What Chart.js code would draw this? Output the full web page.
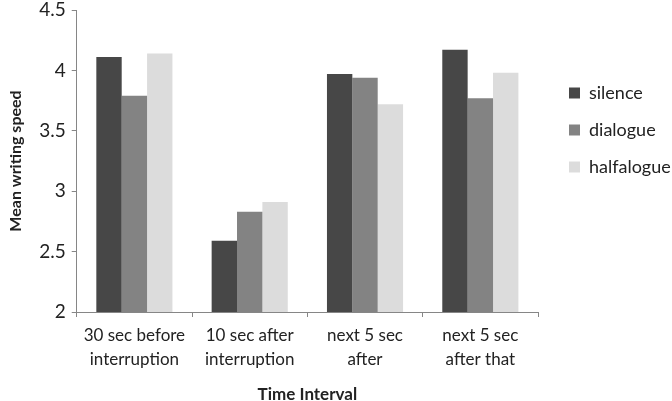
<!DOCTYPE html>
<html><head><meta charset="utf-8">
<script src="https://cdn.jsdelivr.net/npm/chart.js@4"></script>
<style>html,body{margin:0;padding:0;background:#fff;}#wrap{width:672px;height:401px;}</style>
</head><body><div id="wrap"><canvas id="c" width="672" height="401"></canvas></div>
<script>
const categories = [["30 sec before","interruption"],["10 sec after","interruption"],["next 5 sec","after"],["next 5 sec","after that"]];
const silence = [4.11, 2.59, 3.97, 4.17];
const dialogue = [3.79, 2.83, 3.94, 3.77];
const halfalogue = [4.14, 2.91, 3.72, 3.98];
const yTicks = [2, 2.5, 3, 3.5, 4, 4.5];

const font = "Lato, 'Liberation Sans', sans-serif";
const LEGEND_W = 122;
const LEGEND_GAP = 12;
const shiftLegend = {
  id:'shiftLegend',
  afterLayout(chart){
    const lg = chart.legend;
    if (lg) { lg.left += LEGEND_GAP; lg.right += LEGEND_GAP; }
  }
};
new Chart(document.getElementById('c'), {
  type: 'bar',
  data: {
    labels: categories,
    datasets: [
      {label:'silence', data: silence, backgroundColor:'#474747'},
      {label:'dialogue', data: dialogue, backgroundColor:'#838383'},
      {label:'halfalogue', data: halfalogue, backgroundColor:'#dcdcdc'}
    ]
  },
  plugins:[shiftLegend],
  options: {
    responsive:false, animation:false, devicePixelRatio:1,
    layout:{padding:{top:10,right:0,left:6,bottom:-4}},
    datasets:{bar:{categoryPercentage:0.66, barPercentage:1.0}},
    plugins:{
      legend:{position:'right', align:'start', maxWidth:LEGEND_W,
        title:{display:true, text:' ', font:{size:10}, padding:{top:43,bottom:0}},
        labels:{font:{family:font,size:18}, color:'#222', boxWidth:11, boxHeight:11, padding:19},
        },
      tooltip:{enabled:false}
    },
    scales:{
      x:{
        afterFit:(s)=>{s.paddingRight = LEGEND_W + LEGEND_GAP;},
        grid:{drawOnChartArea:false, color:'#868686', tickLength:5, offset:true},
        border:{color:'#868686'},
        ticks:{font:{family:font,size:17,lineHeight:1.4}, color:'#222', padding:7},
        title:{display:true, text:'Time Interval', font:{family:font,size:17,weight:'bold'}, color:'#222', padding:{top:6,bottom:0}}
      },
      y:{
        min:2, max:4.5,
        afterFit:(s)=>{s.paddingTop = 0;},
        afterBuildTicks:(s)=>{s.ticks = yTicks.map(v=>({value:v}));},
        grid:{drawOnChartArea:false, color:'#868686', tickLength:5},
        border:{color:'#868686'},
        ticks:{font:{family:font,size:19}, color:'#222', padding:6, callback:(v)=>String(v)},
        title:{display:true, text:'Mean writing speed', font:{family:font,size:16,weight:'bold'}, color:'#222', padding:{top:0,bottom:8}}
      }
    }
  }
});
</script></body></html>
